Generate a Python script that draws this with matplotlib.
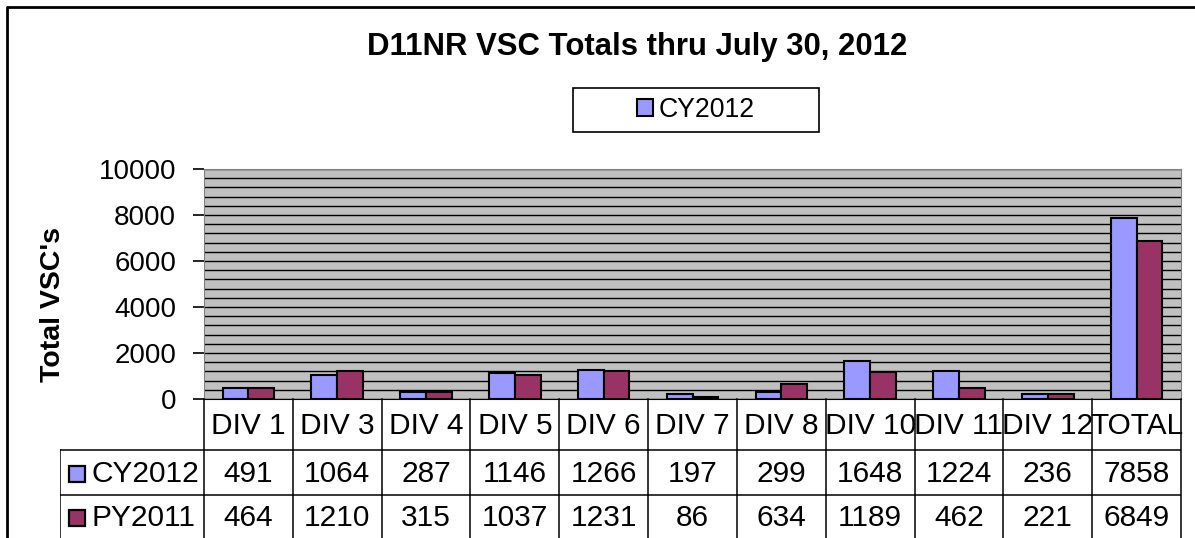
import numpy as np
import matplotlib
matplotlib.use('Agg')
import matplotlib.pyplot as plt
from matplotlib.ticker import MultipleLocator
from matplotlib.patches import Rectangle
from matplotlib.lines import Line2D

plt.rcParams['font.family'] = ['Liberation Sans', 'DejaVu Sans']

# data
categories = ['DIV 1', 'DIV 3', 'DIV 4', 'DIV 5', 'DIV 6', 'DIV 7',
              'DIV 8', 'DIV 10', 'DIV 11', 'DIV 12', 'TOTAL']
cy2012 = [491, 1064, 287, 1146, 1266, 197, 299, 1648, 1224, 236, 7858]
py2011 = [464, 1210, 315, 1037, 1231, 86, 634, 1189, 462, 221, 6849]
series_names = ['CY2012', 'PY2011']
colors = ['#9999FF', '#993366']

W, H = 1195, 538
fig = plt.figure(figsize=(W / 100, H / 100), dpi=100)

# plot area in pixel positions
left, right, top, bottom = 204, 1181, 169, 399
ax = fig.add_axes([left / W, (H - bottom) / H, (right - left) / W, (bottom - top) / H])
ax.set_facecolor('#C0C0C0')

x = np.arange(len(categories))
bw = 0.29
ax.bar(x - bw / 2, cy2012, bw, color=colors[0], edgecolor='black', lw=1.5, zorder=3, label=series_names[0])
ax.bar(x + bw / 2, py2011, bw, color=colors[1], edgecolor='black', lw=1.5, zorder=3, label=series_names[1])

ax.set_xlim(-0.5, len(categories) - 0.5)
ax.set_ylim(0, 10000)
ax.yaxis.set_major_locator(MultipleLocator(2000))
ax.yaxis.set_minor_locator(MultipleLocator(400))
ax.grid(which='both', axis='y', color='black', lw=1.0, zorder=1)
ax.set_axisbelow(True)
ax.set_xticks([])
ax.tick_params(axis='y', which='major', length=8, width=1.2, pad=12, labelsize=20, color='black')
ax.tick_params(axis='y', which='minor', length=0)
for side in ['top', 'right', 'left']:
    ax.spines[side].set_color('#808080')
ax.spines['bottom'].set_color('black')
ax.set_ylabel("Total VSC's", fontsize=20.5, fontweight='bold')
ax.yaxis.set_label_coords(-(left - 66) / (right - left), (bottom - 305) / (bottom - top))

# data table under the plot
tx0 = 60
unit = (right - left) / len(categories)
tab = fig.add_axes([tx0 / W, 0, (right - tx0) / W, (H - bottom) / H])
tab.set_xlim(-0.5 - (left - tx0) / unit, len(categories) - 0.5)
tab.set_ylim(H, bottom)
tab.axis('off')
xl = -0.5 - (left - tx0) / unit
xr = len(categories) - 0.5
row_y = [bottom, 450, 495, H + 5]
for k in range(len(categories) + 1):
    tab.plot([k - 0.5, k - 0.5], [bottom, H], color='black', lw=1.1, clip_on=False)
tab.plot([xl, xr], [row_y[1], row_y[1]], color='black', lw=1.1)
tab.plot([xl, xr], [row_y[2], row_y[2]], color='black', lw=1.1)
tab.plot([xl, xl], [row_y[1], H], color='black', lw=1.1)

fs = 21.5
for i, c in enumerate(categories):
    tab.text(i, (row_y[0] + row_y[1]) / 2 + 2, c, ha='center', va='center', fontsize=fs)
    tab.text(i, (row_y[1] + row_y[2]) / 2 + 2, str(cy2012[i]), ha='center', va='center', fontsize=fs)
    tab.text(i, (row_y[2] + H) / 2 + 2, str(py2011[i]), ha='center', va='center', fontsize=fs)

for r, (name, col) in enumerate(zip(series_names, colors)):
    yc = (row_y[1] + row_y[2]) / 2 if r == 0 else (row_y[2] + H) / 2
    tab.plot([xl + 0.19], [yc + 1], marker='s', ms=11, mfc=col, mec='black', mew=1.6)
    tab.text(xl + 0.36, yc + 2, name, ha='left', va='center', fontsize=fs)

# title
fig.text(637 / W, 1 - 47 / H, 'D11NR VSC Totals thru July 30, 2012', ha='center', va='center',
         fontsize=22.4, fontweight='bold')

# legend box
fig.patches.append(Rectangle((573 / W, 1 - 132 / H), 246 / W, 44 / H, transform=fig.transFigure,
                             facecolor='white', edgecolor='black', lw=1.2))
h, l = ax.get_legend_handles_labels()
leg = fig.legend(h[:1], l[:1], loc='center', bbox_to_anchor=(696 / W, 1 - 110 / H), frameon=False,
                 fontsize=19.2, handlelength=0.6, handleheight=0.6, handletextpad=0.2)
leg.set_zorder(5)

# outer chart border
fig.add_artist(Line2D([7 / W, 7 / W, 1.0], [0, 1 - 7 / H, 1 - 7 / H], transform=fig.transFigure,
                      color='black', lw=2))

fig.savefig('out.png', dpi=100)
